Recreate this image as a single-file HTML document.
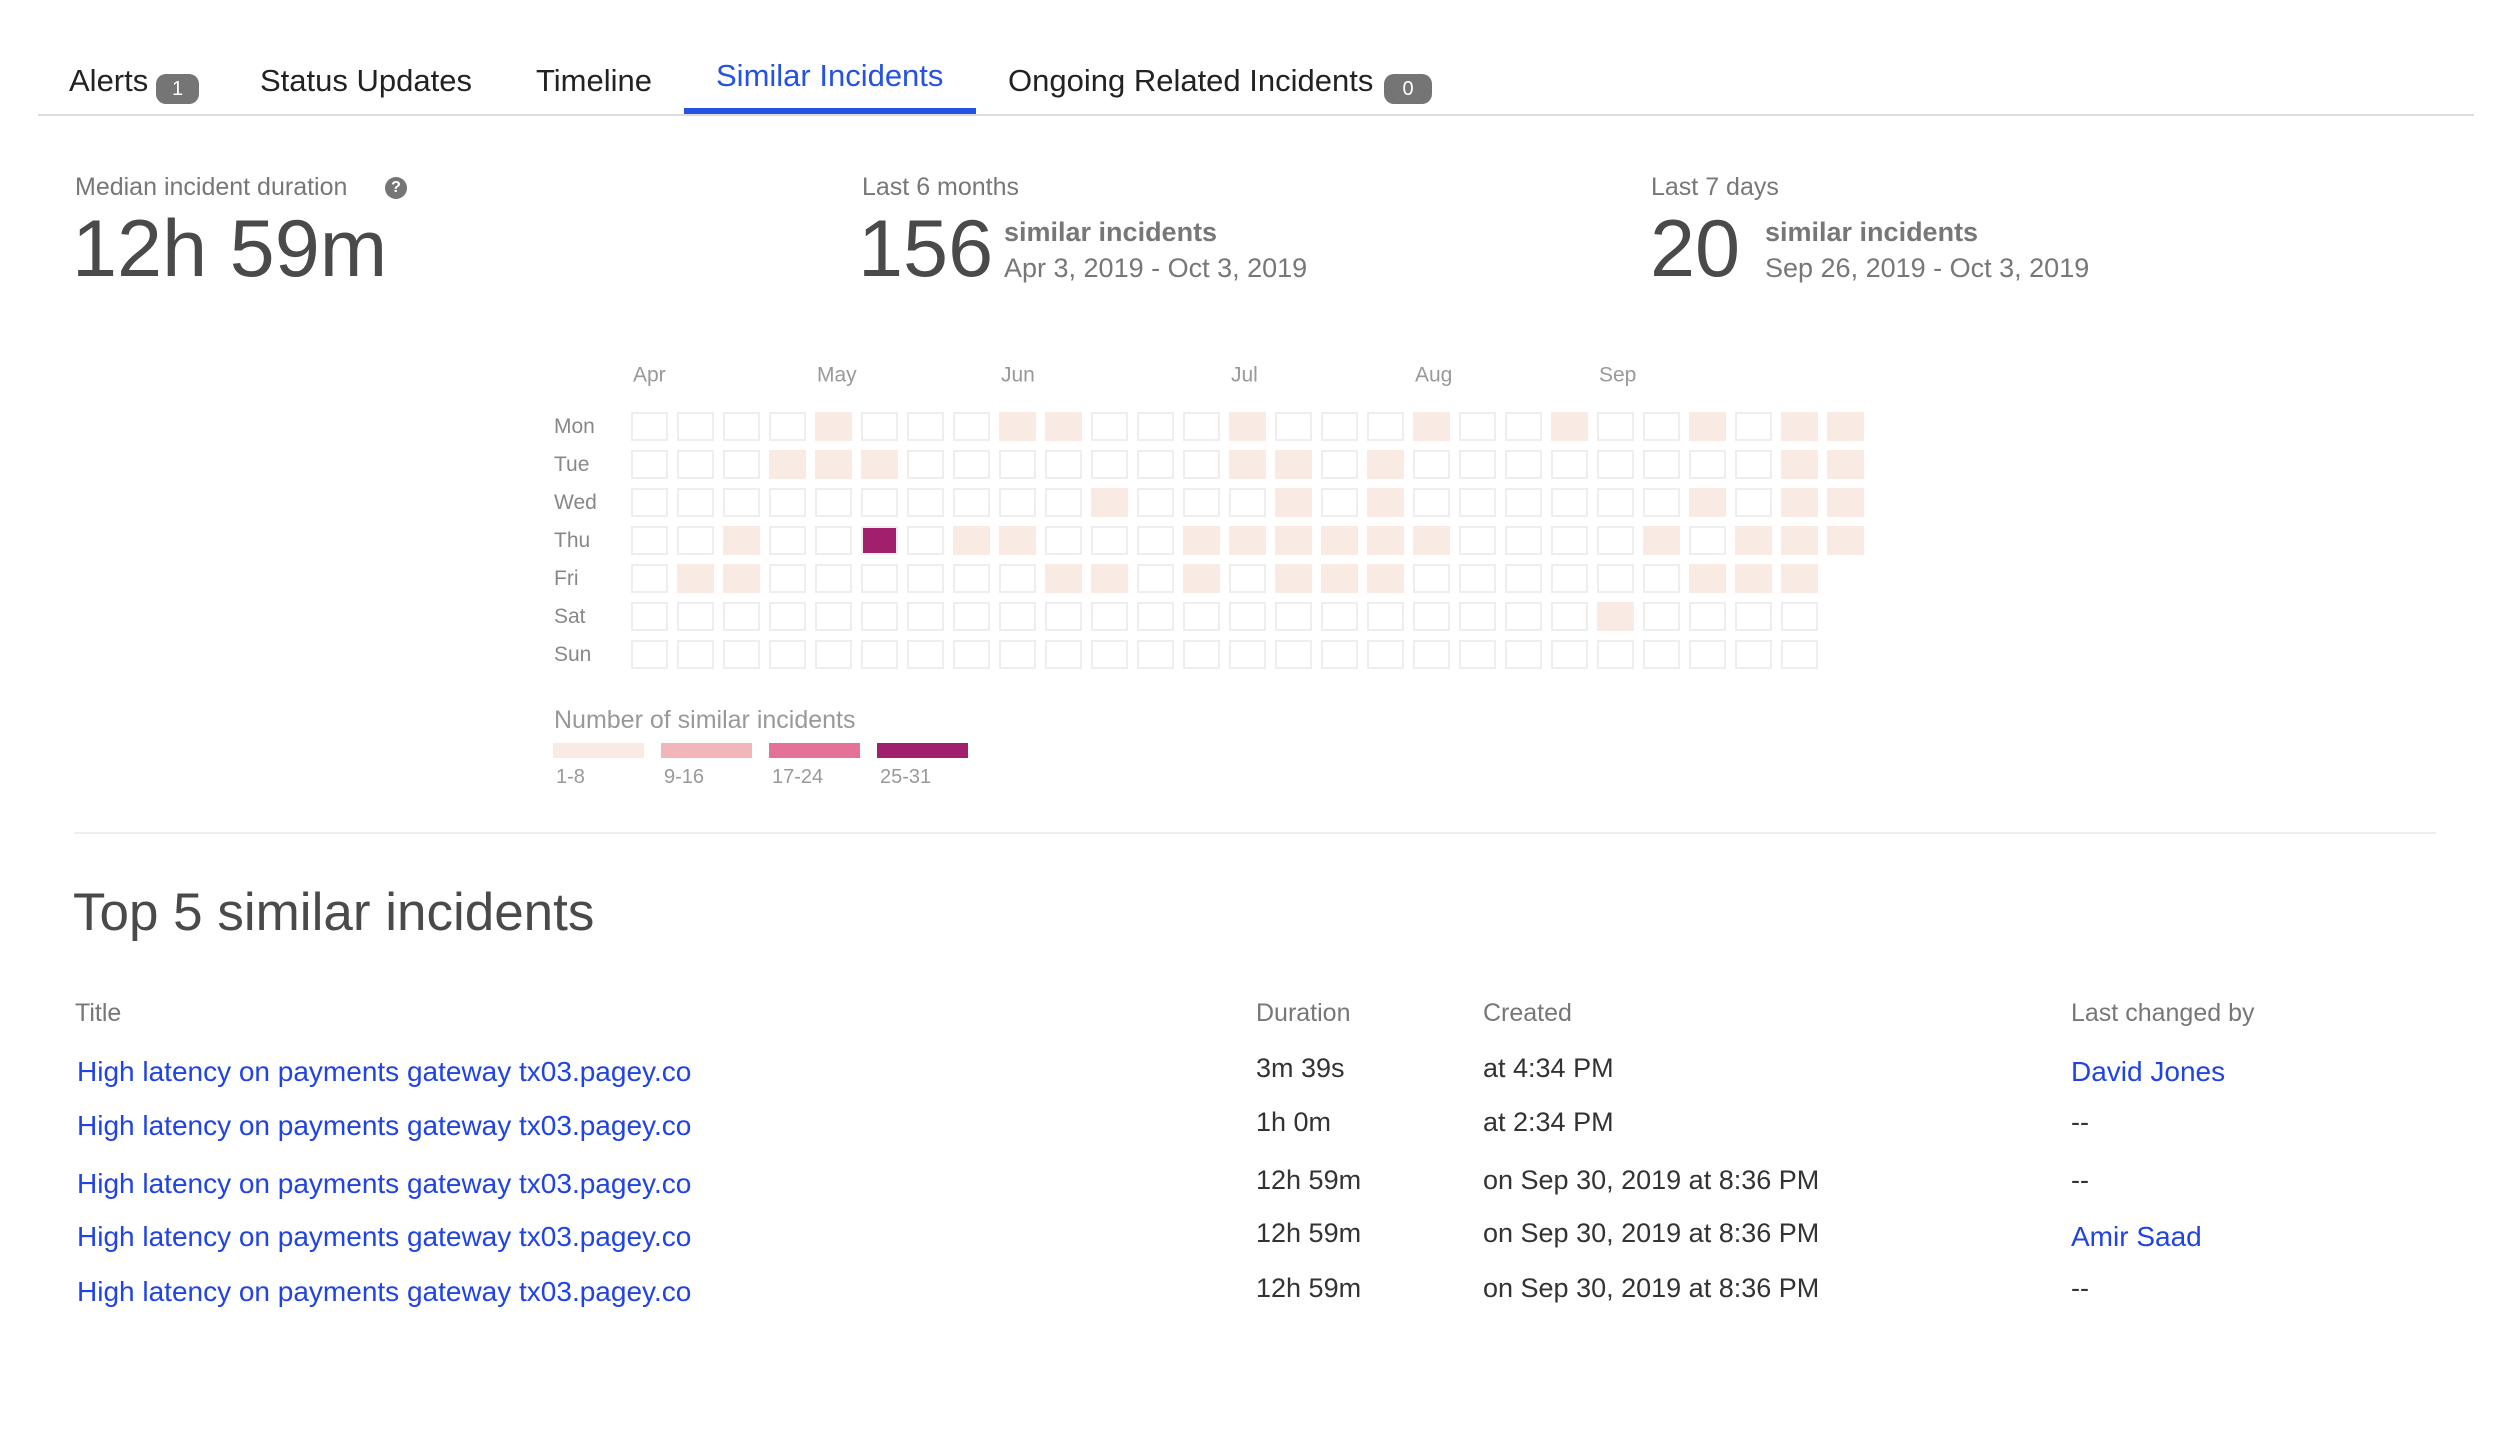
<!DOCTYPE html>
<html><head><meta charset="utf-8">
<style>
body{margin:0;width:2496px;height:1434px;background:#fff;font-family:"Liberation Sans",sans-serif;position:relative;overflow:hidden}
.a{position:absolute;white-space:nowrap}
.tab{font-size:31px;color:#222;top:63px}
.badge{position:absolute;background:#757575;color:#fff;border-radius:10px;font-size:20px;text-align:center;line-height:30px;height:30px}
.lbl{font-size:25px;color:#777}
.big{font-size:81px;color:#4a4a4a}
.sub{font-size:27px;color:#777}
.th{font-size:25px;color:#777}
.td{font-size:27px;color:#333}
.lnk{font-size:28px;color:#2043e6;text-decoration:none}
</style></head><body>
<div class="a tab" style="left:69px">Alerts</div>
<div class="badge" style="left:156px;top:74px;width:43px">1</div>
<div class="a tab" style="left:260px">Status Updates</div>
<div class="a tab" style="left:536px">Timeline</div>
<div class="a tab" style="left:716px;top:58px;color:#2552e0">Similar Incidents</div>
<div class="a tab" style="left:1008px">Ongoing Related Incidents</div>
<div class="badge" style="left:1384px;top:74px;width:48px">0</div>
<div class="a" style="left:38px;top:114px;width:2436px;height:2px;background:#ddd"></div>
<div class="a" style="left:684px;top:108px;width:292px;height:6px;background:#2552e0"></div>

<div class="a lbl" style="left:75px;top:173px">Median incident duration</div>
<div class="a" style="left:385px;top:177px;width:22px;height:22px;border-radius:50%;background:#757575;color:#fff;font-size:16px;font-weight:bold;text-align:center;line-height:22px">?</div>
<div class="a big" style="left:72px;top:203px">12h 59m</div>

<div class="a lbl" style="left:862px;top:173px">Last 6 months</div>
<div class="a big" style="left:858px;top:203px">156</div>
<div class="a sub" style="left:1004px;top:217px;font-weight:bold">similar incidents</div>
<div class="a sub" style="left:1004px;top:253px">Apr 3, 2019 - Oct 3, 2019</div>

<div class="a lbl" style="left:1651px;top:173px">Last 7 days</div>
<div class="a big" style="left:1650px;top:203px">20</div>
<div class="a sub" style="left:1765px;top:217px;font-weight:bold">similar incidents</div>
<div class="a sub" style="left:1765px;top:253px">Sep 26, 2019 - Oct 3, 2019</div>

<svg id="hm" class="a" style="left:0;top:0" width="2496" height="820"></svg>

<div class="a" style="left:74px;top:832px;width:2362px;height:2px;background:#eee"></div>
<div class="a" style="left:73px;top:882px;font-size:53px;color:#4a4a4a">Top 5 similar incidents</div>

<div class="a th" style="left:75px;top:999px">Title</div>
<div class="a th" style="left:1256px;top:999px">Duration</div>
<div class="a th" style="left:1483px;top:999px">Created</div>
<div class="a th" style="left:2071px;top:999px">Last changed by</div>

<div id="rows"></div>

<script>
const days=["Mon","Tue","Wed","Thu","Fri","Sat","Sun"];
const months=["Apr","May","Jun","Jul","Aug","Sep"];
const monthCols=[0,4,8,13,17,21];
const mon=[0,0,0,0,3,0,0,0,2,4,0,0,0,3,0,0,0,2,0,0,5,0,0,3,0,2,4];
const tue=[0,0,0,2,4,3,0,0,0,0,0,0,0,3,2,0,4,0,0,0,0,0,0,0,0,3,2];
const wed=[0,0,0,0,0,0,0,0,0,0,3,0,0,0,2,0,4,0,0,0,0,0,0,3,0,2,3];
const thu=[0,0,2,0,0,28,0,3,2,0,0,0,4,3,2,3,5,2,0,0,0,0,3,0,2,4,3];
const fri=[0,3,2,0,0,0,0,0,0,4,2,0,3,0,2,3,2,0,0,0,0,0,0,3,2,4];
const sat=[0,0,0,0,0,0,0,0,0,0,0,0,0,0,0,0,0,0,0,0,0,3,0,0,0,0];
const sun=[0,0,0,0,0,0,0,0,0,0,0,0,0,0,0,0,0,0,0,0,0,0,0,0,0,0];
const legendLabels=["1-8","9-16","17-24","25-31"];
const legendColors=["#f9ebe3","#f2b5b9","#e5709a","#a0206e"];

const ns="http://www.w3.org/2000/svg";
const svg=document.getElementById('hm');
const X0=631,PX=46,CW=37,Y0=412,PY=38,CH=29;
const xCol=c=>X0+c*PX, yRow=r=>Y0+r*PY;
function color(v){if(v<=0)return null;if(v<=8)return legendColors[0];if(v<=16)return legendColors[1];if(v<=24)return legendColors[2];return legendColors[3];}
function txt(x,y,s,size,fill){const t=document.createElementNS(ns,'text');t.setAttribute('x',x);t.setAttribute('y',y);t.setAttribute('font-size',size);t.setAttribute('fill',fill);t.setAttribute('font-family','Liberation Sans, sans-serif');t.setAttribute('dominant-baseline','central');t.textContent=s;svg.appendChild(t);return t;}
months.forEach((m,i)=>{const t=txt(xCol(monthCols[i])+2,375,m,21,'#999');

});
[mon,tue,wed,thu,fri,sat,sun].forEach((row,r)=>{
  const t=txt(554,yRow(r)+CH/2,days[r],21,'#888');
  
  
  row.forEach((v,c)=>{
    const rc=document.createElementNS(ns,'rect');
    const col=color(v);
    rc.setAttribute('x',xCol(c)+1);rc.setAttribute('y',yRow(r)+1);
    rc.setAttribute('width',CW-2);rc.setAttribute('height',CH-2);
    rc.setAttribute('fill',col||'#fff');
    rc.setAttribute('stroke',v>24?'#eee':(col||'#eee'));
    rc.setAttribute('stroke-width',2);
    
    
    svg.appendChild(rc);
  });
});
const lt=txt(554,720,'Number of similar incidents',25,'#999');


legendLabels.forEach((l,i)=>{
  const x=553+i*108;
  const r=document.createElementNS(ns,'rect');
  r.setAttribute('x',x);r.setAttribute('y',743);r.setAttribute('width',91);r.setAttribute('height',15);r.setAttribute('fill',legendColors[i]);
  
  
  svg.appendChild(r);
  const t=txt(x+3,777,l,20,'#999');
  
  
});

const durations=["3m 39s","1h 0m","12h 59m","12h 59m","12h 59m"];
const created=["at 4:34 PM","at 2:34 PM","on Sep 30, 2019 at 8:36 PM","on Sep 30, 2019 at 8:36 PM","on Sep 30, 2019 at 8:36 PM"];
const changedBy=["David Jones","--","--","Amir Saad","--"];
const rowY=[1073,1127,1185,1238,1293];
const rowsEl=document.getElementById('rows');
function div(cls,left,top,text,name,inter){const d=document.createElement(inter?'a':'div');d.className='a '+cls;d.style.left=left+'px';d.style.top=top+'px';d.textContent=text;rowsEl.appendChild(d);return d;}
durations.forEach((d,i)=>{
  const a=div('lnk',77,rowY[i]-17,'High latency on payments gateway tx03.pagey.co','',true);
  
  
  const b=div('td',1256,rowY[i]-20,d,'',false);
  
  
  const c=div('td',1483,rowY[i]-20,created[i],'',false);
  
  
  const isLink=changedBy[i]!=='--';
  const e=div(isLink?'lnk':'td',2071,rowY[i]-(isLink?17:20),changedBy[i],'',isLink);
  
  
});
</script>
</body></html>
